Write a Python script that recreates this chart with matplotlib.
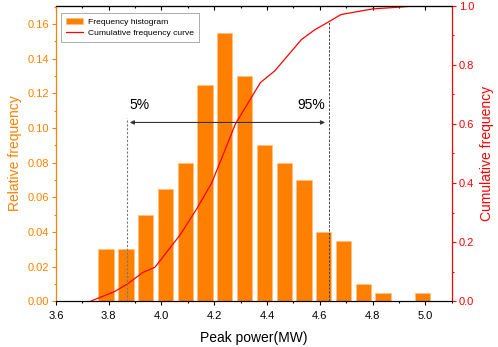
import numpy as np
import matplotlib
matplotlib.use('Agg')
import matplotlib.pyplot as plt
from matplotlib.ticker import MultipleLocator, FormatStrFormatter

plt.rcParams['font.family'] = ['Liberation Sans', 'DejaVu Sans']

# histogram bins (MW) and relative frequency
bin_centers = [3.79, 3.865, 3.94, 4.015, 4.09, 4.165, 4.24, 4.315, 4.39,
               4.465, 4.54, 4.615, 4.69, 4.765, 4.84, 4.915, 4.99]
rel_freq = [0.03, 0.03, 0.05, 0.065, 0.08, 0.125, 0.155, 0.13, 0.09,
            0.08, 0.07, 0.04, 0.035, 0.01, 0.005, 0.0, 0.005]
bar_w = 0.058

# cumulative frequency curve
cum_x = [3.73, 3.82, 3.87, 3.93, 3.975, 4.07, 4.135, 4.19, 4.24, 4.28,
         4.375, 4.43, 4.53, 4.58, 4.635, 4.68, 4.8, 4.9, 4.97]
cum_y = [0.0, 0.032, 0.058, 0.098, 0.115, 0.224, 0.315, 0.40, 0.51, 0.60,
         0.74, 0.78, 0.885, 0.918, 0.946, 0.970, 0.989, 0.995, 1.0]

p5, p95 = 3.87, 4.635
p5_top, p95_top = 0.62, 0.946
arrow_y = 0.605

orange = '#FF8000'
red = '#FF0000'

fig = plt.figure(figsize=(4.98, 3.47), dpi=100)
ax = fig.add_axes([0.1124, 0.1317, 0.907 - 0.1124, 0.9836 - 0.1317])
ax2 = ax.twinx()

bars = ax.bar(bin_centers, rel_freq, width=bar_w, color=orange,
              edgecolor='#FFC080', linewidth=0.5, label='Frequency histogram')
line, = ax2.plot(cum_x, cum_y, color=red, lw=0.9, label='Cumulative frequency curve')

ax.set_xlim(3.6, 5.1)
ax.set_ylim(0, 0.1706)
ax2.set_ylim(0, 1.0)

ax.xaxis.set_major_locator(MultipleLocator(0.2))
ax.xaxis.set_minor_locator(MultipleLocator(0.1))
ax.xaxis.set_major_formatter(FormatStrFormatter('%.1f'))
ax.yaxis.set_major_locator(MultipleLocator(0.02))
ax.yaxis.set_minor_locator(MultipleLocator(0.01))
ax.yaxis.set_major_formatter(FormatStrFormatter('%.2f'))
ax2.yaxis.set_major_locator(MultipleLocator(0.2))
ax2.yaxis.set_minor_locator(MultipleLocator(0.1))
ax2.yaxis.set_major_formatter(FormatStrFormatter('%.1f'))

ax.tick_params(axis='x', which='major', direction='out', length=3, width=0.8,
               labelsize=8, pad=4)
ax.tick_params(axis='x', which='minor', direction='out', length=1.7, width=0.8)
ax.tick_params(axis='y', which='major', direction='out', length=3, width=0.8,
               color=orange, labelcolor=orange, labelsize=8, pad=2)
ax.tick_params(axis='y', which='minor', direction='out', length=1.7, width=0.8,
               color=orange)
ax2.tick_params(axis='y', which='major', direction='out', length=3, width=0.8,
                color=red, labelcolor=red, labelsize=8, pad=2)
ax2.tick_params(axis='y', which='minor', direction='out', length=1.7, width=0.8,
                color=red)

top = ax.secondary_xaxis('top')
top.xaxis.set_major_locator(MultipleLocator(0.2))
top.xaxis.set_minor_locator(MultipleLocator(0.1))
top.tick_params(which='major', direction='in', length=3, width=0.8, labeltop=False)
top.tick_params(which='minor', direction='in', length=1.7, width=0.8)
top.spines['top'].set_linewidth(0.8)

for a in (ax, ax2):
    a.spines['left'].set_color(orange)
    a.spines['right'].set_color(red)
    for s in a.spines.values():
        s.set_linewidth(0.8)

ax.set_xlabel('Peak power(MW)', fontsize=10, labelpad=7)
ax.set_ylabel('Relative frequency', fontsize=10, color=orange, labelpad=4)
ax2.set_ylabel('Cumulative frequency', fontsize=10, color=red, labelpad=4)

# 5% / 95% markers
ax2.plot([p5, p5], [0, p5_top], color='#777777', lw=0.8, ls=(0, (2, 1.5)))
ax2.plot([p95, p95], [0, p95_top], color='#444444', lw=0.7, ls=(0, (2.5, 1.5)))
ax2.annotate('', xy=(p5 + 0.01, arrow_y), xytext=(p95 - 0.015, arrow_y),
             arrowprops=dict(arrowstyle='<|-|>', color='#333333', lw=0.8,
                             mutation_scale=6, shrinkA=0, shrinkB=0))
ax2.text(p5 + 0.01, 0.64, '5%', fontsize=10, ha='left', va='bottom')
ax2.text(p95 - 0.015, 0.64, '95%', fontsize=10, ha='right', va='bottom')

leg = ax2.legend([bars, line], ['Frequency histogram', 'Cumulative frequency curve'],
                 loc='upper left', bbox_to_anchor=(0.0126, 0.9745), fontsize=6.1,
                 frameon=True, fancybox=False, edgecolor='#888888',
                 handlelength=2.1, handleheight=0.8, borderpad=0.55,
                 labelspacing=0.35, handletextpad=0.55, borderaxespad=0)
leg.get_frame().set_linewidth(0.6)

fig.savefig('out.png', dpi=100)
